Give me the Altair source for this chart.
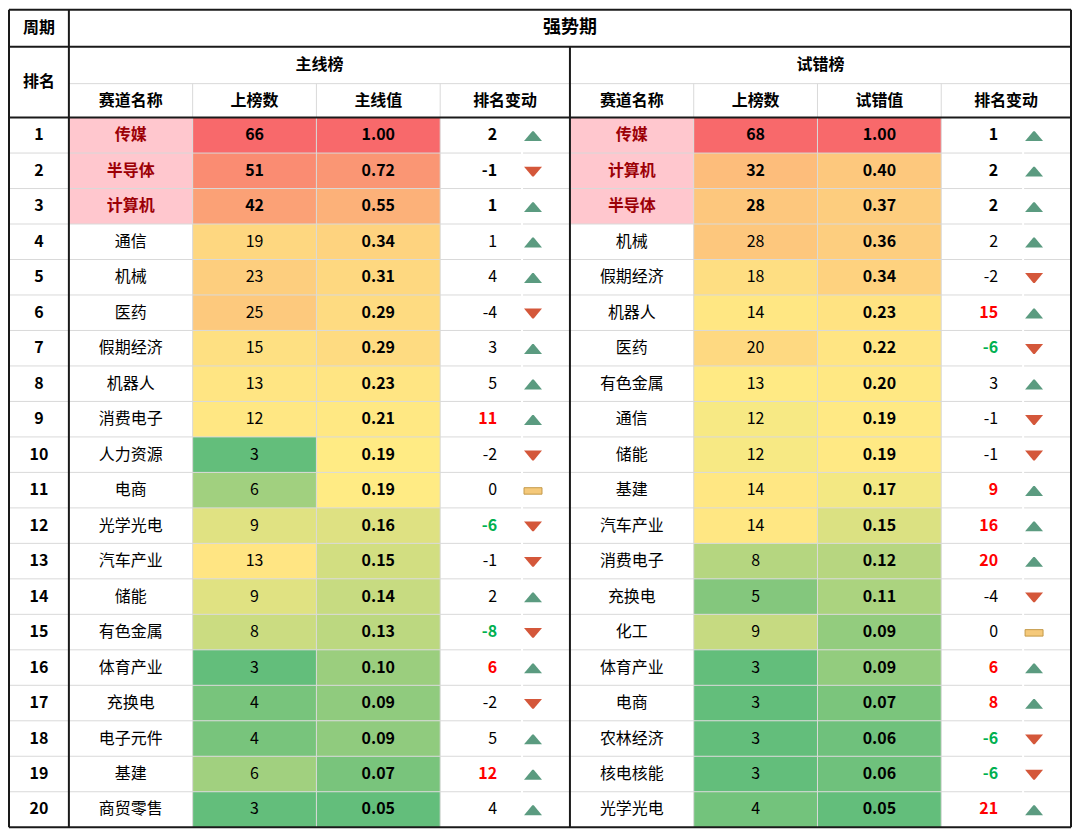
import altair as alt
import pandas as pd
import numpy as np

# ---------------- data ----------------
ranks = list(range(1, 21))

main_names = ["传媒", "半导体", "计算机", "通信", "机械", "医药", "假期经济", "机器人", "消费电子", "人力资源",
              "电商", "光学光电", "汽车产业", "储能", "有色金属", "体育产业", "充换电", "电子元件", "基建", "商贸零售"]
main_counts = [66, 51, 42, 19, 23, 25, 15, 13, 12, 3, 6, 9, 13, 9, 8, 3, 4, 4, 6, 3]
main_values = [1.00, 0.72, 0.55, 0.34, 0.31, 0.29, 0.29, 0.23, 0.21, 0.19,
               0.19, 0.16, 0.15, 0.14, 0.13, 0.10, 0.09, 0.09, 0.07, 0.05]
main_change = [2, -1, 1, 1, 4, -4, 3, 5, 11, -2, 0, -6, -1, 2, -8, 6, -2, 5, 12, 4]

trial_names = ["传媒", "计算机", "半导体", "机械", "假期经济", "机器人", "医药", "有色金属", "通信", "储能",
               "基建", "汽车产业", "消费电子", "充换电", "化工", "体育产业", "电商", "农林经济", "核电核能", "光学光电"]
trial_counts = [68, 32, 28, 28, 18, 14, 20, 13, 12, 12, 14, 14, 8, 5, 9, 3, 3, 3, 3, 4]
trial_values = [1.00, 0.40, 0.37, 0.36, 0.34, 0.23, 0.22, 0.20, 0.19, 0.19,
                0.17, 0.15, 0.12, 0.11, 0.09, 0.09, 0.07, 0.06, 0.06, 0.05]
trial_change = [1, 2, 2, 2, -2, 15, -6, 3, -1, -1, 9, 16, 20, -4, 0, 6, 8, -6, -6, 21]

period_label = "周期"
rank_label = "排名"
period_name = "强势期"
section_titles = ["主线榜", "试错榜"]
col_titles_main = ["赛道名称", "上榜数", "主线值", "排名变动"]
col_titles_trial = ["赛道名称", "上榜数", "试错值", "排名变动"]

# ---------------- layout ----------------
W, H = 1064, 819
col_w = [60, 124, 124, 124, 130, 124, 124, 124, 130]
cx = np.concatenate([[0], np.cumsum(col_w)]).astype(float)
head_h = [37, 37, 34]
hy = np.concatenate([[0], np.cumsum(head_h)]).astype(float)
row_h = (H - hy[-1]) / 20.0
ry = hy[-1] + np.arange(21) * row_h

FONT = "Noto Sans CJK SC"
xs = alt.Scale(domain=[0, W], nice=False, zero=False)
ys = alt.Scale(domain=[0, H], nice=False, zero=False, reverse=True)


def X(f):
    return alt.X(f, type="quantitative", scale=xs, axis=None)


def Y(f):
    return alt.Y(f, type="quantitative", scale=ys, axis=None)


def rect_layer(df, **kw):
    return alt.Chart(df).mark_rect(**kw).encode(x=X("x0"), x2="x1", y=Y("y0"), y2="y1")


# heatmap columns with Excel-like 3-colour scale
def heat(col_idx, vals):
    df = pd.DataFrame({
        "x0": cx[col_idx], "x1": cx[col_idx + 1],
        "y0": ry[:-1], "y1": ry[1:], "v": vals,
    })
    dom = [float(np.min(vals)), float(np.median(vals)), float(np.max(vals))]
    return alt.Chart(df).mark_rect().encode(
        x=X("x0"), x2="x1", y=Y("y0"), y2="y1",
        color=alt.Color("v:Q", legend=None,
                        scale=alt.Scale(domain=dom, range=["#63BE7B", "#FFEB84", "#F8696B"],
                                        interpolate="rgb")),
    )


heat_layers = [heat(2, main_counts), heat(3, main_values), heat(6, trial_counts), heat(7, trial_values)]

# pink top-3 name cells
pink = pd.DataFrame({
    "x0": [cx[1]] * 3 + [cx[5]] * 3, "x1": [cx[2]] * 3 + [cx[6]] * 3,
    "y0": list(ry[0:3]) * 2, "y1": list(ry[1:4]) * 2,
})
pink_layer = rect_layer(pink, color="#FFC7CE")

# light grid lines (with the tiny break inside the change columns)
light = []
for i in range(1, 20):
    light.append((0, cx[4] + 81, ry[i], ry[i]))
    light.append((cx[4] + 83, cx[8] + 81, ry[i], ry[i]))
    light.append((cx[8] + 83, W, ry[i], ry[i]))
light.append((cx[1], W, hy[2], hy[2]))
for c in [2, 3, 4, 6, 7, 8]:
    light.append((cx[c], cx[c], hy[2], H))
light_df = pd.DataFrame(light, columns=["x0", "x1", "y0", "y1"])
light_layer = alt.Chart(light_df).mark_rule(color="#D9D9D9", strokeWidth=1).encode(
    x=X("x0"), x2="x1", y=Y("y0"), y2="y1")

# thick lines
thick = [
    (0, W, 0, 0), (0, W, H, H), (0, 0, 0, H), (W, W, 0, H),
    (0, W, hy[1], hy[1]), (0, W, hy[3], hy[3]),
    (cx[1], cx[1], 0, H), (cx[5], cx[5], hy[1], H),
]
thick_df = pd.DataFrame(thick, columns=["x0", "x1", "y0", "y1"])
thick_layer = alt.Chart(thick_df).mark_rule(color="#1A1A1A", strokeWidth=2).encode(
    x=X("x0"), x2="x1", y=Y("y0"), y2="y1")


def text_layer(df, size=16, weight="normal", color="#000000", align="center", **kw):
    return alt.Chart(df).mark_text(font=FONT, fontSize=size, fontWeight=weight, color=color,
                                   align=align, baseline="middle", **kw).encode(
        x=X("x"), y=Y("y"), text="t:N")


# headers
hdr = [
    ((cx[0] + cx[1]) / 2, (hy[0] + hy[1]) / 2, period_label),
    ((cx[0] + cx[1]) / 2, (hy[1] + hy[3]) / 2, rank_label),
    ((cx[1] + cx[5]) / 2, (hy[1] + hy[2]) / 2, section_titles[0]),
    ((cx[5] + cx[9]) / 2, (hy[1] + hy[2]) / 2, section_titles[1]),
]
for k, t in enumerate(col_titles_main):
    hdr.append(((cx[1 + k] + cx[2 + k]) / 2, (hy[2] + hy[3]) / 2, t))
for k, t in enumerate(col_titles_trial):
    hdr.append(((cx[5 + k] + cx[6 + k]) / 2, (hy[2] + hy[3]) / 2, t))
hdr_df = pd.DataFrame(hdr, columns=["x", "y", "t"])
hdr_layer = text_layer(hdr_df, size=16, weight="bold")

title_df = pd.DataFrame([((cx[1] + cx[9]) / 2, (hy[0] + hy[1]) / 2, period_name)], columns=["x", "y", "t"])
title_layer = text_layer(title_df, size=18, weight="bold")

rc = (ry[:-1] + ry[1:]) / 2
top = np.arange(20) < 3

rank_df = pd.DataFrame({"x": (cx[0] + cx[1]) / 2, "y": rc, "t": [str(r) for r in ranks]})
rank_layer = text_layer(rank_df, size=16, weight="bold")

text_layers = [hdr_layer, title_layer, rank_layer]
icon_layers = []

for sec, (names, counts, vals, chg) in enumerate([
        (main_names, main_counts, main_values, main_change),
        (trial_names, trial_counts, trial_values, trial_change)]):
    base = 1 + sec * 4
    # names
    ndf = pd.DataFrame({"x": (cx[base] + cx[base + 1]) / 2, "y": rc, "t": names, "top": top})
    text_layers.append(text_layer(ndf[ndf.top], weight="bold", color="#9C0006"))
    text_layers.append(text_layer(ndf[~ndf.top]))
    # counts
    cdf = pd.DataFrame({"x": (cx[base + 1] + cx[base + 2]) / 2, "y": rc,
                        "t": [str(c) for c in counts], "top": top})
    text_layers.append(text_layer(cdf[cdf.top], weight="bold"))
    text_layers.append(text_layer(cdf[~cdf.top]))
    # values
    vdf = pd.DataFrame({"x": (cx[base + 2] + cx[base + 3]) / 2, "y": rc,
                        "t": [f"{v:.2f}" for v in vals]})
    text_layers.append(text_layer(vdf, weight="bold"))
    # change numbers
    chg_a = np.array(chg)
    xnum = cx[base + 3] + 57
    kdf = pd.DataFrame({"x": xnum, "y": rc, "t": [str(c) for c in chg], "c": chg_a, "top": top})
    big_pos = kdf[(kdf.c >= 6) & ~kdf.top]
    big_neg = kdf[(kdf.c <= -6) & ~kdf.top]
    plain = kdf[(kdf.c.abs() < 6) & ~kdf.top]
    text_layers.append(text_layer(kdf[kdf.top], weight="bold", align="right"))
    text_layers.append(text_layer(big_pos, weight="bold", color="#FF0000", align="right"))
    text_layers.append(text_layer(big_neg, weight="bold", color="#00B050", align="right"))
    text_layers.append(text_layer(plain, align="right"))
    # icons
    xic = cx[base + 3] + 93
    idf = pd.DataFrame({"x": xic, "y": rc + 0.8, "c": chg_a})
    up = idf[idf.c > 0]
    dn = idf[idf.c < 0]
    fl = idf[idf.c == 0]
    icon_layers.append(alt.Chart(up).mark_point(
        shape="M-1,0.55 L1,0.55 L0.08,-0.55 L-0.08,-0.55 Z", filled=True, fill="#5B9B80",
        opacity=1, size=324).encode(x=X("x"), y=Y("y")))
    icon_layers.append(alt.Chart(dn).mark_point(
        shape="M-1,-0.55 L1,-0.55 L0.08,0.55 L-0.08,0.55 Z", filled=True, fill="#D4573A",
        opacity=1, size=324).encode(x=X("x"), y=Y("y")))
    if len(fl):
        icon_layers.append(alt.Chart(fl).mark_point(
            shape="M-1,-0.36 L1,-0.36 L1,0.36 L-1,0.36 Z", filled=True, fill="#F5C97A",
            stroke="#C49A48", strokeWidth=1, opacity=1, size=324).encode(x=X("x"), y=Y("y")))

chart = alt.layer(
    *heat_layers, pink_layer, light_layer, thick_layer, *text_layers, *icon_layers
).resolve_scale(color="independent").properties(
    width=W, height=H, padding=0, background="#FFFFFF"
).configure_view(strokeWidth=0)

chart.save("out.html", embed_options={"renderer": "svg", "actions": False})
